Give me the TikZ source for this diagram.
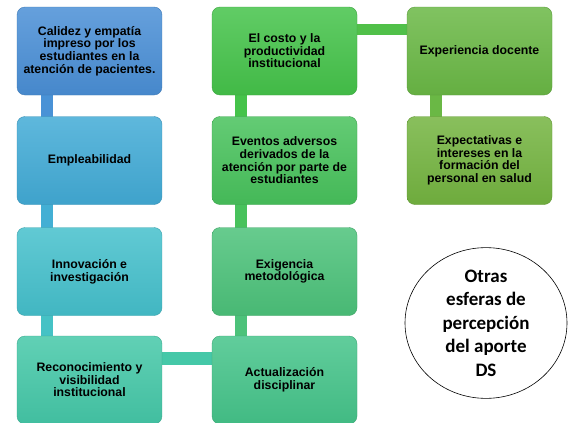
\documentclass[tikz,border=0pt]{standalone}
\usepackage{fontspec}
\setmainfont{Liberation Sans}
\newfontfamily\ellfont{Carlito}
\usetikzlibrary{shapes.geometric,calc}
\definecolor{cLa}{HTML}{4A8FD6}
\definecolor{cLb}{HTML}{42ABD6}
\definecolor{cLc}{HTML}{45C0CC}
\definecolor{cLd}{HTML}{45C8A8}
\definecolor{cMa}{HTML}{45C34A}
\definecolor{cMb}{HTML}{48C25C}
\definecolor{cMc}{HTML}{4CC27A}
\definecolor{cMd}{HTML}{45C48A}
\definecolor{cRa}{HTML}{6AB845}
\definecolor{cRb}{HTML}{74B440}
\tikzset{
  box/.style={rounded corners=8pt, minimum width=145pt, minimum height=88pt,
    align=center, font=\fontsize{12.3}{12.6}\selectfont\bfseries, text=black,
    top color=#1!85!white, bottom color=#1!95!black, draw=#1!85!black, line width=0.4pt},
  bar/.style={line width=12pt, draw=#1},
  oval/.style={ellipse, draw=black, line width=0.6pt, minimum width=162pt, minimum height=140pt,
    align=center, font=\ellfont\fontsize{19}{23.5}\selectfont\bfseries, inner sep=0pt}
}
\begin{document}
\begin{tikzpicture}[x=1pt,y=-1pt]
\useasboundingbox[fill=white] (0,0) rectangle (568,423);
% connectors (behind)
\coordinate (la) at (46.5,51);
\coordinate (lb) at (46.5,160.5);
\coordinate (lc) at (46.5,271.5);
\coordinate (ld) at (46.5,380);
\coordinate (ma) at (241,51);
\coordinate (mb) at (241,160.5);
\coordinate (mc) at (241,271.5);
\coordinate (md) at (241,380);
\coordinate (ra) at (436,51);
\coordinate (rb) at (436,160.5);
\coordinate (hb1) at (89.5,358.5);
\coordinate (hb2) at (284.5,358.5);
\coordinate (ht1) at (284.5,29.5);
\coordinate (ht2) at (479.5,29.5);
\draw[bar=cLa!90!cLb] (la) -- (lb);
\draw[bar=cLb!80!cLc] (lb) -- (lc);
\draw[bar=cLc!80!cLd] (lc) -- (ld);
\draw[bar=cMa] (ma) -- (mb);
\draw[bar=cMb] (mb) -- (mc);
\draw[bar=cMc] (mc) -- (md);
\draw[bar=cRa] (ra) -- (rb);
\draw[bar=cLd, line width=13pt] (hb1) -- (hb2);
\draw[bar=cMa!70!cRa, line width=11pt] (ht1) -- (ht2);
% boxes
\node[box=cLa] (L1) at (89.5,51) {Calidez y empatía\\impreso por los\\estudiantes en la\\atención de pacientes.};
\node[box=cLb] (L2) at (89.5,160.5) {Empleabilidad};
\node[box=cLc] (L3) at (89.5,271.5) {Innovación e\\investigación};
\node[box=cLd] (L4) at (89.5,380) {Reconocimiento y\\visibilidad\\institucional};
\node[box=cMa] (M1) at (284.5,51) {El costo y la\\productividad\\institucional};
\node[box=cMb] (M2) at (284.5,160.5) {Eventos adversos\\derivados de la\\atención por parte de\\estudiantes};
\node[box=cMc] (M3) at (284.5,271.5) {Exigencia\\metodológica};
\node[box=cMd] (M4) at (284.5,380) {Actualización\\disciplinar};
\node[box=cRa] (R1) at (479.5,51) {Experiencia docente};
\node[box=cRb] (R2) at (479.5,160.5) {Expectativas e\\intereses en la\\formación del\\personal en salud};
\node[oval] (E) at (486,323) {Otras\\esferas de\\percepción\\del aporte\\DS};
\end{tikzpicture}
\end{document}
